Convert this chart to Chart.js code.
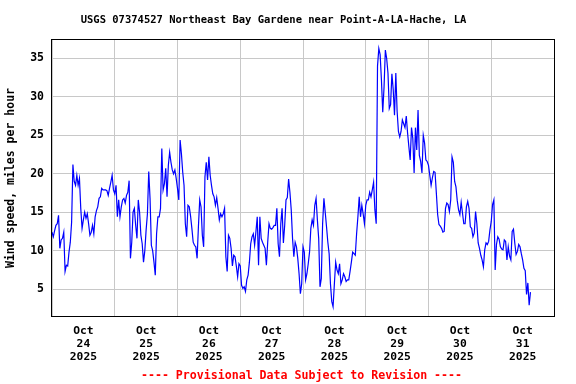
<!DOCTYPE html>
<html>
<head>
<meta charset="utf-8">
<script src="https://cdn.jsdelivr.net/npm/chart.js@4"></script>
<style>
  body { margin: 0; background: #ffffff; }
  #graphe { display: block; }
</style>
</head>
<body>
<canvas id="graphe" width="576" height="384"></canvas>
<script>
// textes du graphique
const titreStation = "USGS 07374527 Northeast Bay Gardene near Point-A-LA-Hache, LA"
const titreAxeY = "Wind speed, miles per hour"
const notePied = "---- Provisional Data Subject to Revision ----"

// étiquettes de l'axe des x (une par jour, centrée sur midi)
const moisEtiquette = "Oct"
const joursEtiquettes = ["24", "25", "26", "27", "28", "29", "30", "31"]
const anneeEtiquette = "2025"

// graduations : heures depuis le 24 oct 00:00, et vitesses
const heuresGraduations = [0, 12, 24, 36, 48, 60, 72, 84, 96, 108, 120, 132, 144, 156, 168, 180, 192]
const vitessesGraduations = [5, 10, 15, 20, 25, 30, 35]

// série : une mesure toutes les 30 min à partir du 24 oct 00:00
const debutHeures = 0
const pasHeures = 0.5
const vitesses = [
  12.4, 11.8, 12.6, 13.3, 13.5, 14.6, 10.3, 11.4, 11.6, 12.4,
  7.3, 8.1, 8.0, 9.8, 11.1, 13.7, 21.2, 19.0, 18.5, 19.8,
  18.5, 19.4, 15.5, 12.9, 14.0, 15.0, 14.2, 14.8, 13.5, 12.0,
  12.4, 13.3, 12.2, 14.4, 15.2, 15.7, 16.8, 17.0, 18.1, 17.9,
  17.9, 17.9, 17.8, 17.2, 18.1, 18.9, 19.8, 17.9, 17.4, 18.5,
  14.4, 16.6, 14.4, 15.7, 16.6, 16.8, 16.2, 17.2, 17.6, 19.1,
  9.0, 11.1, 15.0, 15.5, 13.3, 11.6, 16.6, 15.0, 12.0, 10.9,
  8.5, 10.0, 12.7, 14.8, 20.3, 16.8, 10.7, 10.0, 8.5, 6.8,
  12.2, 14.4, 14.4, 15.5, 23.3, 17.9, 18.7, 20.7, 17.0, 21.1,
  22.8, 21.5, 20.5, 20.0, 20.5, 19.4, 18.1, 16.6, 24.4, 22.6,
  20.2, 18.5, 13.5, 11.8, 15.9, 15.7, 14.5, 12.9, 11.1, 10.7,
  10.5, 9.0, 13.1, 16.6, 15.7, 12.0, 10.5, 19.6, 21.5, 19.2,
  22.2, 19.8, 18.5, 17.4, 17.0, 15.9, 16.9, 15.5, 14.0, 14.8,
  14.4, 14.8, 15.5, 9.2, 7.3, 12.0, 11.6, 10.3, 8.0, 9.4,
  9.2, 8.0, 6.6, 8.3, 8.0, 5.5, 5.1, 5.3, 4.7, 6.2,
  6.8, 8.5, 10.9, 11.8, 12.2, 10.7, 12.5, 14.4, 8.1, 14.4,
  11.6, 11.1, 10.7, 10.3, 8.1, 11.1, 13.5, 12.9, 12.8, 13.0,
  13.3, 13.3, 15.5, 10.9, 9.2, 13.5, 15.5, 11.0, 13.3, 16.6,
  16.9, 19.3, 17.6, 15.3, 11.6, 9.2, 11.1, 10.5, 9.0, 7.0,
  4.4, 5.7, 10.5, 9.8, 6.2, 7.0, 8.3, 9.8, 12.9, 14.0,
  13.3, 15.9, 16.8, 14.0, 11.6, 5.3, 6.4, 13.5, 16.8, 15.0,
  13.1, 11.1, 9.6, 5.7, 3.4, 2.7, 5.7, 8.5, 7.5, 7.0,
  8.3, 5.7, 6.2, 7.0, 6.6, 6.0, 6.2, 6.2, 7.3, 8.5,
  9.8, 9.6, 9.4, 12.2, 14.4, 17.0, 14.4, 15.9, 14.8, 13.5,
  15.9, 16.6, 16.6, 17.6, 17.0, 17.9, 18.9, 15.3, 13.5, 34.0,
  36.3, 35.5, 32.2, 28.0, 31.3, 36.1, 35.0, 33.1, 28.5, 29.0,
  33.0, 31.0, 27.6, 33.1, 28.1, 25.5, 24.8, 25.5, 27.0, 26.5,
  26.0, 27.5, 25.3, 23.5, 21.8, 26.0, 24.6, 20.1, 26.0, 23.1,
  28.3, 22.4, 21.6, 20.1, 25.0, 24.0, 21.8, 21.6, 21.1, 19.8,
  18.5, 19.5, 20.3, 20.2, 17.5, 14.7, 13.4, 13.2, 12.9, 12.4,
  12.5, 15.5, 16.2, 16.0, 15.1, 16.6, 22.2, 21.5, 19.0, 18.3,
  16.5, 15.3, 14.7, 16.3, 14.9, 13.5, 13.5, 15.7, 16.4, 15.5,
  13.1, 12.9, 11.8, 12.3, 15.1, 13.5, 11.0, 10.3, 9.4, 8.8,
  7.9, 10.1, 11.0, 10.8, 11.2, 12.7, 13.8, 16.0, 16.6, 7.5,
  10.8, 11.8, 11.5, 10.5, 10.2, 10.1, 11.4, 11.2, 8.8, 10.5,
  9.3, 8.8, 12.5, 12.8, 11.0, 9.5, 9.9, 10.8, 10.5, 9.6,
  8.8, 7.7, 7.4, 4.3, 5.8, 2.9, 4.6
]

// points {x, y} pour l'échelle linéaire
const points = vitesses.map((v, i) => ({ x: debutHeures + i * pasHeures, y: v }))

const policeMono = "'DejaVu Sans Mono', 'Liberation Mono', monospace"
Chart.defaults.font.family = policeMono
Chart.defaults.font.size = 11.5
Chart.defaults.font.weight = "bold"
Chart.defaults.color = "#000000"

// cadre noir + titre + note en bas
const cadreEtTextes = {
  id: "cadreEtTextes",
  afterDraw(chart) {
    const ctx = chart.ctx
    const a = chart.chartArea
    ctx.save()
    ctx.strokeStyle = "#000000"
    ctx.lineWidth = 1
    ctx.strokeRect(a.left - 0.5, a.top - 0.5, a.right - a.left + 1, a.bottom - a.top + 1)

    ctx.textAlign = "center"
    ctx.textBaseline = "middle"
    ctx.font = "bold 10.5px " + policeMono
    ctx.fillStyle = "#000000"
    ctx.fillText(titreStation, 273.5, 20.5)
    ctx.font = "bold 11.6px " + policeMono
    ctx.fillStyle = "#ff0000"
    ctx.fillText(notePied, 301.5, 375.5)
    ctx.restore()
  }
}

new Chart(document.getElementById("graphe"), {
  type: "line",
  data: {
    datasets: [{
      label: "Wind speed",
      data: points,
      borderColor: "#0000ff",
      borderWidth: 1.2,
      pointRadius: 0,
      tension: 0,
      fill: false
    }]
  },
  options: {
    responsive: false,
    animation: false,
    layout: { padding: { top: 40, right: 22, left: 0, bottom: 0 } },
    plugins: {
      legend: { display: false },
      title: { display: false },
      tooltip: { enabled: false }
    },
    scales: {
      x: {
        type: "linear",
        min: 0,
        max: 192,
        afterBuildTicks: axe => { axe.ticks = heuresGraduations.map(v => ({ value: v })) },
        afterFit: axe => { axe.height = 68 },
        border: { display: false },
        grid: {
          drawTicks: false,
          color: c => (c.tick && c.tick.value % 24 === 0) ? "#c8c8c8" : "rgba(0,0,0,0)"
        },
        ticks: {
          padding: 9,
          maxRotation: 0,
          autoSkip: false,
          font: { size: 11.3, lineHeight: 1.15 },
          callback: v => (v % 24 === 12) ? [moisEtiquette, joursEtiquettes[(v - 12) / 24], anneeEtiquette] : ""
        }
      },
      y: {
        min: 1.5,
        max: 37.4,
        afterBuildTicks: axe => { axe.ticks = vitessesGraduations.map(v => ({ value: v })) },
        afterFit: axe => { axe.width = 52 },
        border: { display: false },
        grid: { drawTicks: false, color: "#c8c8c8" },
        ticks: { padding: 8 },
        title: {
          display: true,
          text: titreAxeY,
          padding: { top: 4, bottom: 0 }
        }
      }
    }
  },
  plugins: [cadreEtTextes]
})
</script>
</body>
</html>
